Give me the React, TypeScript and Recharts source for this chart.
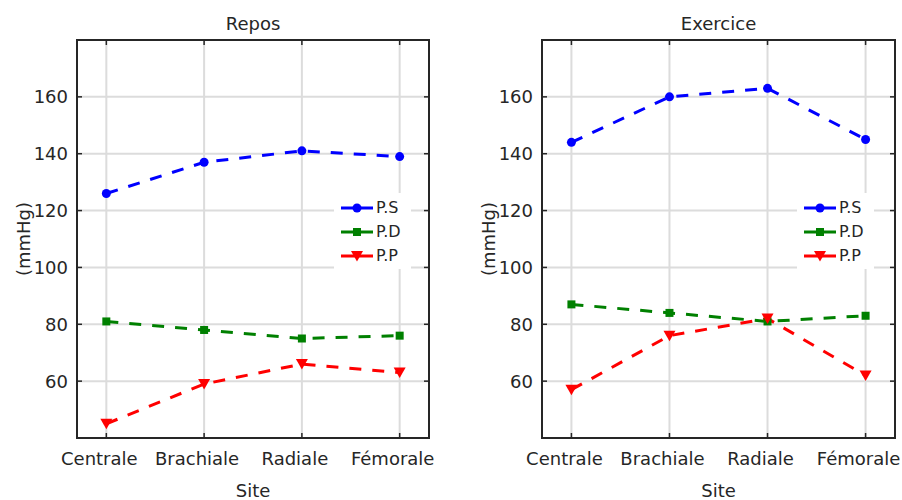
import { CartesianGrid, Line, LineChart, ReferenceArea, XAxis, YAxis } from "recharts";

const SITES = ["Centrale", "Brachiale", "Radiale", "Fémorale"];
const X_TICKS = [1, 2, 3, 4];
const Y_TICKS = [60, 80, 100, 120, 140, 160];

const REPOS_PS = [126, 137, 141, 139];
const REPOS_PD = [81, 78, 75, 76];
const REPOS_PP = [45, 59, 66, 63];

const EXERCICE_PS = [144, 160, 163, 145];
const EXERCICE_PD = [87, 84, 81, 83];
const EXERCICE_PP = [57, 76, 82, 62];

const SERIES = [
  { key: "ps", label: "P.S", color: "#0000ff", marker: "circle" },
  { key: "pd", label: "P.D", color: "#008000", marker: "square" },
  { key: "pp", label: "P.P", color: "#ff0000", marker: "triangle" },
];

const TEXT = "#262626";
const X_DOMAIN = [0.7, 4.3];
const Y_DOMAIN = [40, 180];
const PLOT_TOP = 40;
const PLOT_BOTTOM = 438;
const TICK_LEN = 5;

function Marker({ shape, x, y, color }: { shape: string; x: number; y: number; color: string }) {
  if (shape === "circle") return <circle cx={x} cy={y} r={4.5} fill={color} />;
  if (shape === "square") return <rect x={x - 4} y={y - 4} width={8} height={8} fill={color} />;
  return <path d={`M${x - 6},${y - 5}L${x + 6},${y - 5}L${x},${y + 5.5}Z`} fill={color} />;
}

function LegendBox({ left }: { left: number }) {
  return (
    <div style={{ position: "absolute", left, top: 193, width: 77, height: 76, background: "#fff" }}>
      {SERIES.map((s, i) => (
        <div
          key={s.key}
          style={{ position: "absolute", left: 0, top: 4 + i * 24, height: 22, display: "flex", alignItems: "center" }}
        >
          <svg width={40} height={22}>
            <line x1={7} x2={39} y1={11} y2={11} stroke={s.color} strokeWidth={3} strokeDasharray="14 4" />
            <Marker shape={s.marker} x={23} y={11} color={s.color} />
          </svg>
          <span style={{ fontSize: 16, lineHeight: "22px", color: TEXT, marginLeft: 2 }}>{s.label}</span>
        </div>
      ))}
    </div>
  );
}

type PanelProps = {
  title: string;
  ps: number[];
  pd: number[];
  pp: number[];
  left: number;
  axisWidth: number;
  marginRight: number;
  legendLeft: number;
};

function Panel({ title, ps, pd, pp, left, axisWidth, marginRight, legendLeft }: PanelProps) {
  const data = SITES.map((site, i) => ({ x: i + 1, site, ps: ps[i], pd: pd[i], pp: pp[i] }));
  const plotLeft = axisWidth;
  const plotRight = 451 - marginRight;

  // MATLAB-style ticks: drawn inward on both sides of the box
  const xTick = (p: any) => (
    <g>
      <line x1={p.x} x2={p.x} y1={PLOT_BOTTOM} y2={PLOT_BOTTOM - TICK_LEN} stroke={TEXT} strokeWidth={1.5} />
      <line x1={p.x} x2={p.x} y1={PLOT_TOP} y2={PLOT_TOP + TICK_LEN} stroke={TEXT} strokeWidth={1.5} />
      <text x={p.x - 7} y={PLOT_BOTTOM + 27} textAnchor="middle" fontSize={18} fill={TEXT}>
        {SITES[p.payload.value - 1]}
      </text>
    </g>
  );
  const yTick = (p: any) => (
    <g>
      <line x1={plotLeft} x2={plotLeft + TICK_LEN} y1={p.y} y2={p.y} stroke={TEXT} strokeWidth={1.5} />
      <line x1={plotRight} x2={plotRight - TICK_LEN} y1={p.y} y2={p.y} stroke={TEXT} strokeWidth={1.5} />
      <text x={plotLeft - 9} y={p.y} textAnchor="end" dominantBaseline="central" fontSize={18} fill={TEXT}>
        {p.payload.value}
      </text>
    </g>
  );

  return (
    <div style={{ position: "absolute", left, top: 0, width: 451, height: 500 }}>
      <LineChart width={451} height={500} data={data} margin={{ top: PLOT_TOP, right: marginRight, bottom: 0, left: 0 }}>
        <CartesianGrid stroke="#dcdcdc" strokeWidth={2} />
        <XAxis
          dataKey="x"
          type="number"
          domain={X_DOMAIN}
          ticks={X_TICKS}
          height={500 - PLOT_BOTTOM}
          axisLine={false}
          tickLine={false}
          tick={xTick}
          label={{ value: "Site", position: "insideBottom", offset: 3, fontSize: 18, fill: TEXT }}
        />
        <YAxis
          domain={Y_DOMAIN}
          ticks={Y_TICKS}
          width={axisWidth}
          axisLine={false}
          tickLine={false}
          tick={yTick}
          label={{
            content: (p: any) => {
              const vb = p.viewBox;
              const cx = vb.x + vb.width - 54;
              const cy = vb.y + vb.height / 2;
              return (
                <text
                  x={cx}
                  y={cy}
                  transform={`rotate(-90 ${cx} ${cy})`}
                  textAnchor="middle"
                  dominantBaseline="central"
                  fontSize={18}
                  fill={TEXT}
                >
                  (mmHg)
                </text>
              );
            },
          }}
        />
        {SERIES.map((s) => (
          <Line
            key={s.key}
            dataKey={s.key}
            stroke={s.color}
            strokeWidth={3}
            strokeDasharray="12 11"
            isAnimationActive={false}
            activeDot={false}
            dot={(p: any) => <Marker key={`${s.key}-${p.index}`} shape={s.marker} x={p.cx} y={p.cy} color={s.color} />}
          />
        ))}
        <ReferenceArea
          x1={X_DOMAIN[0]}
          x2={X_DOMAIN[1]}
          y1={Y_DOMAIN[0]}
          y2={Y_DOMAIN[1]}
          fill="none"
          fillOpacity={0}
          stroke={TEXT}
          strokeWidth={2}
          ifOverflow="visible"
          label={{ value: title, position: "top", offset: 10, fontSize: 18, fill: TEXT }}
        />
      </LineChart>
      <LegendBox left={legendLeft} />
    </div>
  );
}

export default function App() {
  return (
    <div
      style={{
        position: "absolute",
        left: 0,
        top: 0,
        width: 902,
        height: 500,
        background: "#fff",
        fontFamily: "'DejaVu Sans', sans-serif",
      }}
    >
      <Panel title="Repos" ps={REPOS_PS} pd={REPOS_PD} pp={REPOS_PP} left={0} axisWidth={77} marginRight={22} legendLeft={334} />
      <Panel
        title="Exercice"
        ps={EXERCICE_PS}
        pd={EXERCICE_PD}
        pp={EXERCICE_PP}
        left={451}
        axisWidth={91}
        marginRight={7}
        legendLeft={346}
      />
    </div>
  );
}
